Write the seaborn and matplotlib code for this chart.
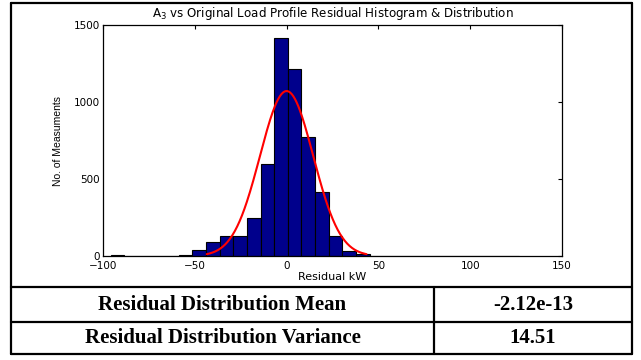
import numpy as np
import pandas as pd
import matplotlib
matplotlib.use("Agg")
import matplotlib.pyplot as plt
import seaborn as sns
from matplotlib.lines import Line2D

# ---- data ----
bin_first_edge = -95.8
bin_width = 7.42
bin_counts = [4, 0, 2, 2, 3, 8, 38, 88, 130, 130, 250, 595, 1415, 1212, 770,
              415, 130, 35, 10, 2, 3, 2, 2, 0, 2, 0, 0, 0, 0, 2]
dist_mean = -2.12e-13
dist_spread = 14.51
table_labels = ["Residual Distribution Mean", "Residual Distribution Variance"]
table_values = ["-2.12e-13", "14.51"]
x_ticks = [-100, -50, 0, 50, 100, 150]
y_ticks = [0, 500, 1000, 1500]

n_bins = len(bin_counts)
edges = bin_first_edge + bin_width * np.arange(n_bins + 1)
centers = (edges[:-1] + edges[1:]) / 2
hist_df = pd.DataFrame({"residual": centers, "count": bin_counts})

# fitted normal curve from the shown mean / spread, scaled to the histogram
n_total = float(np.sum(bin_counts))
xs = np.linspace(dist_mean - 3 * dist_spread, dist_mean + 3 * dist_spread, 200)
ys = n_total * bin_width / (dist_spread * np.sqrt(2 * np.pi)) * np.exp(-0.5 * ((xs - dist_mean) / dist_spread) ** 2)
curve_df = pd.DataFrame({"x": xs, "y": ys})

sns.set_style("white")
plt.rcParams["font.family"] = ["DejaVu Sans"]
plt.rcParams["mathtext.fontset"] = "dejavusans"
plt.rcParams["text.color"] = "black"
plt.rcParams["axes.labelcolor"] = "black"
plt.rcParams["xtick.color"] = "black"
plt.rcParams["ytick.color"] = "black"

W, H = 641, 360
fig = plt.figure(figsize=(W / 100, H / 100), dpi=100)
fig.patch.set_facecolor("white")

ax = fig.add_axes([103 / W, 1 - 256 / H, (562 - 103) / W, (256 - 25) / H])
sns.histplot(data=hist_df, x="residual", weights="count", bins=n_bins,
             binrange=(float(edges[0]), float(edges[-1])), ax=ax,
             color="#00008C", edgecolor="black", linewidth=0.8, alpha=1.0)
sns.lineplot(data=curve_df, x="x", y="y", ax=ax, color="#FF0000", linewidth=1.5)

ax.set_xlim(-100, 150)
ax.set_ylim(0, 1500)
ax.set_xticks(x_ticks)
ax.set_yticks(y_ticks)
ax.tick_params(direction="in", top=True, right=True, length=3, width=0.8,
               labelsize=7.5, colors="black")
ax.tick_params(axis="x", pad=3.5)
ax.tick_params(axis="y", pad=2)
for s in ax.spines.values():
    s.set_visible(True)
    s.set_color("black")
    s.set_linewidth(0.9)
ax.set_xlabel("Residual kW", fontsize=8, labelpad=0.5, color="black")
ax.set_ylabel("No. of Measuments", fontsize=7.5, labelpad=8,
              family="Liberation Sans", color="black")
ax.set_title(r"A$_3$ vs Original Load Profile Residual Histogram & Distribution",
             fontsize=8.6, pad=6, color="black")

# ---- frame and table ----
def hline(y, x0, x1):
    fig.add_artist(Line2D([x0 / W, x1 / W], [1 - y / H, 1 - y / H], color="black",
                          linewidth=1.6, transform=fig.transFigure))

def vline(x, y0, y1):
    fig.add_artist(Line2D([x / W, x / W], [1 - y0 / H, 1 - y1 / H], color="black",
                          linewidth=1.6, transform=fig.transFigure))

L, R, T, B = 11, 632, 3, 354
row1, row2, div = 287, 322, 434
hline(T, L, R)
hline(B, L, R)
hline(row1, L, R)
hline(row2, L, R)
vline(L, T, B)
vline(R, T, B)
vline(div, row1, B)

row_centers = [(row1 + row2) / 2, (row2 + B) / 2]
for yc, lab, val in zip(row_centers, table_labels, table_values):
    fig.text((L + div) / 2 / W, 1 - yc / H, lab, ha="center", va="center",
             fontsize=15, fontweight="bold", family="Liberation Serif", color="black")
    fig.text((div + R) / 2 / W, 1 - yc / H, val, ha="center", va="center",
             fontsize=15, fontweight="bold", family="Liberation Serif", color="black")

fig.savefig("out.png", dpi=100)
